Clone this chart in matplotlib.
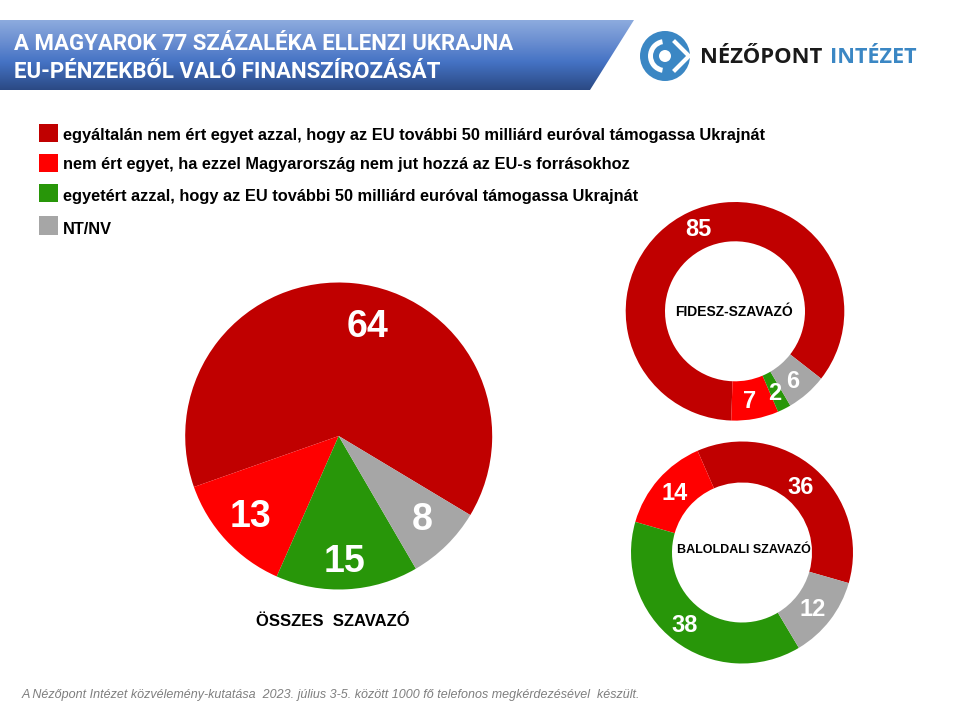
import numpy as np
import matplotlib
matplotlib.use('Agg')
import matplotlib.pyplot as plt
from matplotlib.patches import Circle, Polygon, Rectangle, Wedge

# colours of the answers
DARK_RED, RED, GREEN, GREY = '#c00000', '#ff0000', '#289609', '#a6a6a6'
BLUE = '#3b87c4'

title_lines = ['A MAGYAROK 77 SZÁZALÉKA ELLENZI UKRAJNA',
               'EU-PÉNZEKBŐL VALÓ FINANSZÍROZÁSÁT']
legend_labels = ['egyáltalán nem ért egyet azzal, hogy az EU további 50 milliárd euróval támogassa Ukrajnát',
                 'nem ért egyet, ha ezzel Magyarország nem jut hozzá az EU-s forrásokhoz',
                 'egyetért azzal, hogy az EU további 50 milliárd euróval támogassa Ukrajnát',
                 'NT/NV']
footnote = 'A Nézőpont Intézet közvélemény-kutatása  2023. július 3-5. között 1000 fő telefonos megkérdezésével  készült.'

# order: dark red, red, green, grey (going round counterclockwise)
osszes = [64, 13, 15, 8]
fidesz = [85, 7, 2, 6]
baloldali = [36, 14, 38, 12]

plt.rcParams['font.family'] = ['Liberation Sans', 'DejaVu Sans']

fig = plt.figure(figsize=(9.6, 7.2), dpi=100)
ax = fig.add_axes([0, 0, 1, 1])


def Y(y):
    # picture y (from the top) to axes y
    return 720 - y


def num(x, y, value, size):
    ax.text(x, Y(y), str(value), color='white', fontsize=size, fontweight='bold',
            ha='center', va='center')


# header band with gradient
stops = np.array([[0.55, 0.67, 0.87], [0.42, 0.56, 0.82], [0.27, 0.45, 0.77], [0.17, 0.29, 0.52]])
pos = np.array([0, 0.3, 0.6, 1])
t = np.linspace(0, 1, 70)
img = np.dstack([np.interp(t, pos, stops[:, i])[:, None] for i in range(3)])
band = ax.imshow(img, extent=(0, 634, Y(90), Y(20)), aspect='auto', zorder=1)
band.set_clip_path(Polygon([(0, Y(20)), (634, Y(20)), (590, Y(90)), (0, Y(90))], transform=ax.transData))

for line, y in zip(title_lines, [50.5, 77.5]):
    ax.text(14, Y(y), line, color='white', fontsize=16, fontweight='bold',
            family=['Roboto', 'DejaVu Sans'], va='baseline', zorder=2)

# logo
ax.add_patch(Circle((665, Y(56)), 25, color=BLUE, lw=0, zorder=2))
ax.add_patch(Wedge((665, Y(56)), 17, 100, 260, width=5, color='white', lw=0, zorder=3))
ax.plot([675, 689, 675], [Y(42), Y(56), Y(70)], color='white', lw=3, solid_joinstyle='miter', zorder=3)
ax.add_patch(Circle((665, Y(56)), 6, color='white', lw=0, zorder=5))
ax.text(700, Y(63), 'NÉZŐPONT', color='#1a1a1a', fontsize=15.8, fontweight='bold',
        family=['Open Sans', 'DejaVu Sans'], va='baseline')
ax.text(830, Y(63), 'INTÉZET', color=BLUE, fontsize=15.6, fontweight='bold',
        family=['Open Sans', 'DejaVu Sans'], va='baseline')

# legend
for label, c, top, bottom, base in zip(legend_labels, [DARK_RED, RED, GREEN, GREY],
                                       [123.5, 154, 184, 216], [142, 172, 202, 235],
                                       [140, 169.5, 200.5, 234]):
    ax.add_patch(Rectangle((39, Y(bottom)), 19, bottom - top, color=c, lw=0))
    ax.text(63, Y(base), label, color='black', fontsize=11.8, fontweight='bold', va='baseline')

# main pie
ax.pie(osszes, colors=[DARK_RED, RED, GREEN, GREY], center=(338.7, Y(436)), radius=153.5,
       startangle=-31, frame=True)
num(368, 327, osszes[0], 27)
num(251, 517, osszes[1], 27)
num(344, 562, osszes[2], 27)
num(422, 520, osszes[3], 27)
ax.text(333, Y(622), 'ÖSSZES  SZAVAZÓ', color='black', fontsize=12, fontweight='bold',
        ha='center', va='center')

# fidesz ring
ax.pie(fidesz, colors=[DARK_RED, RED, GREEN, GREY], center=(735, Y(311.3)), radius=109.3,
       startangle=-38, frame=True, wedgeprops={'width': 39.3})
num(698, 230, fidesz[0], 17)
num(750, 401, fidesz[1], 17)
num(775, 393, fidesz[2], 17)
num(793, 381, fidesz[3], 17)
ax.text(734, Y(311.5), 'FIDESZ-SZAVAZÓ', color='black', fontsize=10, fontweight='bold',
        ha='center', va='center')

# baloldali ring
ax.pie(baloldali, colors=[DARK_RED, RED, GREEN, GREY], center=(742, Y(552.5)), radius=111,
       startangle=-16, frame=True, wedgeprops={'width': 41})
num(801, 488, baloldali[0], 17)
num(675, 493, baloldali[1], 17)
num(685, 625, baloldali[2], 17)
num(813, 610, baloldali[3], 17)
ax.text(744, Y(550), 'BALOLDALI SZAVAZÓ', color='black', fontsize=9, fontweight='bold',
        ha='center', va='center')

ax.text(22, Y(695), footnote, color='#7f7f7f', fontsize=9, style='italic', va='center')

ax.set_xlim(0, 960)
ax.set_ylim(0, 720)
ax.set_aspect('auto')
ax.axis('off')

plt.savefig('out.png', dpi=100)
